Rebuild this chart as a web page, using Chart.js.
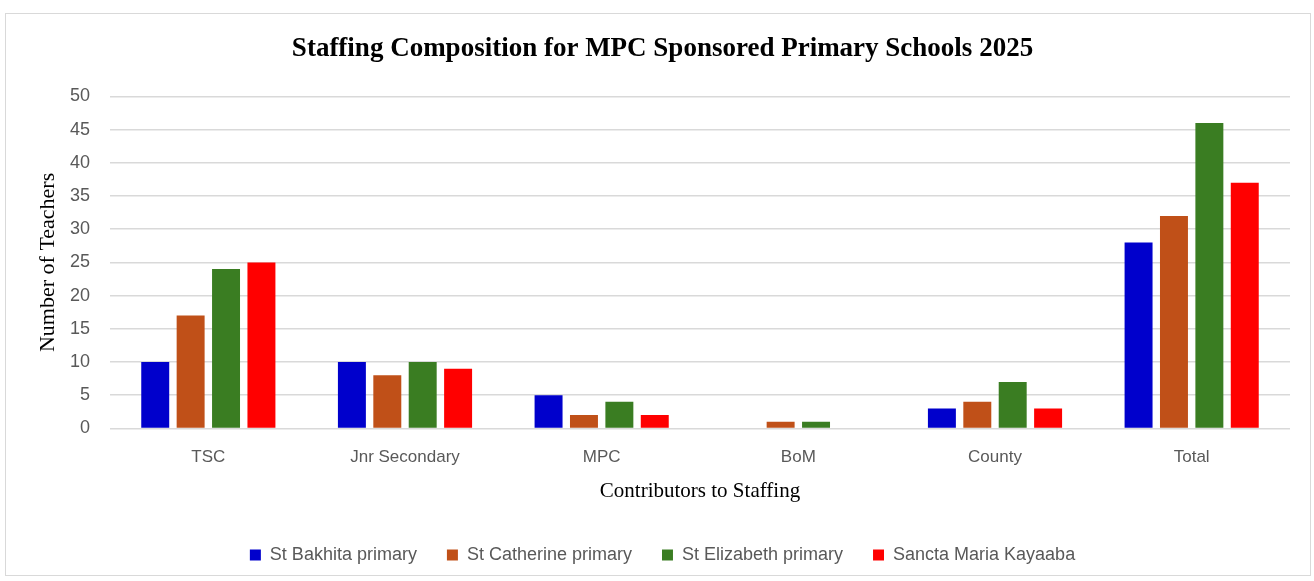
<!DOCTYPE html>
<html>
<head>
<meta charset="utf-8">
<script src="https://cdn.jsdelivr.net/npm/chart.js@4.4.1/dist/chart.umd.min.js"></script>
<style>
  html, body { margin: 0; padding: 0; background: #fff; }
  #frame {
    position: absolute; left: 5px; top: 13px;
    width: 1304px; height: 561px;
    border: 1px solid #d9d9d9;
  }
  #wrap { position: absolute; left: 0; top: 0; width: 1314px; height: 581px; }
</style>
</head>
<body>
<div id="frame"></div>
<div id="wrap"><canvas id="chart"></canvas></div>
<script>
// Datos del gráfico
const categories = ['TSC', 'Jnr Secondary', 'MPC', 'BoM', 'County', 'Total'];
const schools = ['St Bakhita primary', 'St Catherine primary', 'St Elizabeth primary', 'Sancta Maria Kayaaba'];
const stBakhita = [10, 10, 5, 0, 3, 28];
const stCatherine = [17, 8, 2, 1, 4, 32];
const stElizabeth = [24, 10, 4, 1, 7, 46];
const sanctaMaria = [25, 9, 2, 0, 3, 37];
const yTicks = [0, 5, 10, 15, 20, 25, 30, 35, 40, 45, 50];

const colors = ['#0000CC', '#C05018', '#3A7D22', '#FF0000'];
const seriesValues = [stBakhita, stCatherine, stElizabeth, sanctaMaria];

const serif = '"Liberation Serif", "DejaVu Serif", serif';
const sans = '"Liberation Sans", Arial, sans-serif';

const ctx = document.getElementById('chart').getContext('2d');
new Chart(ctx, {
    type: 'bar',
    data: {
        labels: categories,
        datasets: schools.map((name, i) => ({
            label: name,
            data: seriesValues[i],
            backgroundColor: colors[i],
            borderWidth: 0,
            categoryPercentage: 0.72,
            barPercentage: 0.79
        }))
    },
    options: {
        responsive: true,
        maintainAspectRatio: false,
        animation: false,
        layout: {
            padding: { top: 33, right: 24, bottom: 7, left: 35 }
        },
        scales: {
            x: {
                grid: { display: false },
                border: { display: false },
                ticks: {
                    color: '#595959',
                    font: { family: sans, size: 17 },
                    padding: 11
                },
                title: {
                    display: true,
                    text: 'Contributors to Staffing',
                    color: '#000',
                    font: { family: serif, size: 21 },
                    padding: { top: 0, bottom: 12 }
                }
            },
            y: {
                min: 0,
                max: 50,
                afterBuildTicks: axis => {
                    axis.ticks = yTicks.map(v => ({ value: v }));
                },
                afterFit: axis => {
                    // ancho fijo del eje para que el área empiece en x=110
                    axis.width = 75;
                },
                grid: {
                    color: '#d9d9d9',
                    lineWidth: 1.5,
                    drawTicks: false
                },
                border: { display: false },
                ticks: {
                    color: '#595959',
                    font: { family: sans, size: 18 },
                    padding: 20
                },
                title: {
                    display: true,
                    text: 'Number of Teachers',
                    color: '#000',
                    font: { family: serif, size: 22 },
                    padding: { top: 0, bottom: 8 }
                }
            }
        },
        plugins: {
            title: {
                display: true,
                text: 'Staffing Composition for MPC Sponsored Primary Schools 2025',
                color: '#000',
                font: { family: serif, size: 27, weight: 'bold' },
                padding: { top: 0, bottom: 31 }
            },
            legend: {
                position: 'bottom',
                labels: {
                    boxWidth: 11,
                    boxHeight: 11,
                    color: '#595959',
                    font: { family: sans, size: 18 },
                    padding: 30
                }
            },
            tooltip: { enabled: false }
        }
    }
});
</script>
</body>
</html>
